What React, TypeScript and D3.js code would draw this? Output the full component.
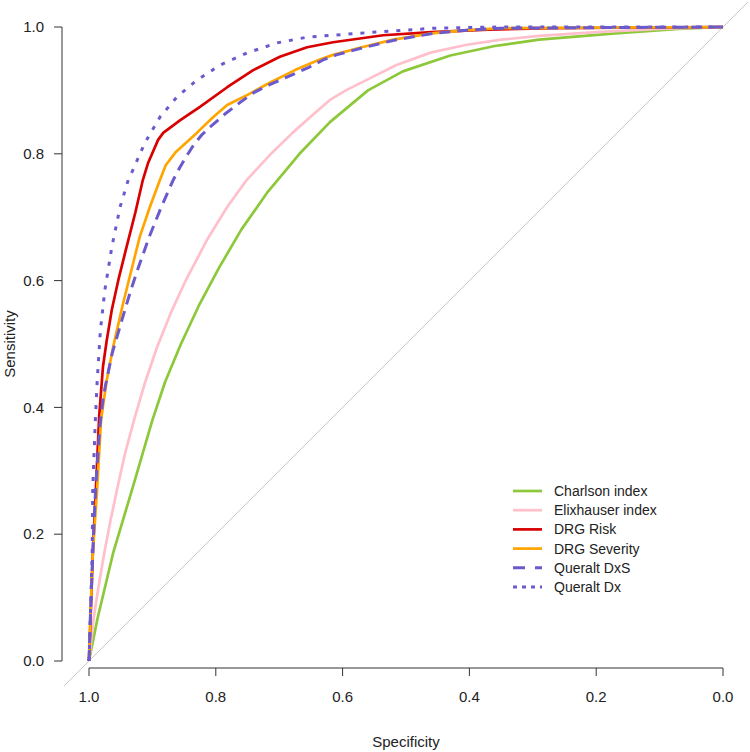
import React from "react";
import * as d3 from "d3";

type Pt = [number, number]; // [specificity, sensitivity]

const seriesNames = ["Charlson index", "Elixhauser index", "DRG Risk", "DRG Severity", "Queralt DxS", "Queralt Dx"];
const seriesColors = ["#8CC83A", "#FFC0CB", "#D90000", "#FFA500", "#6A5ACD", "#6A5ACD"];
const plotDash = ["", "", "", "", "11,7", "4,8"];
const legendDash = ["", "", "", "", "12,10", "4,5"];

const charlson: Pt[] = [
  [1, 0], [0.987, 0.065], [0.962, 0.17], [0.931, 0.274], [0.9, 0.38], [0.88, 0.44], [0.855, 0.5],
  [0.827, 0.56], [0.795, 0.62], [0.76, 0.68], [0.718, 0.74], [0.668, 0.8], [0.62, 0.85], [0.56, 0.9],
  [0.505, 0.93], [0.43, 0.955], [0.36, 0.97], [0.29, 0.98], [0.17, 0.99], [0.07, 0.997], [0, 1],
];
const elixhauser: Pt[] = [
  [1, 0], [0.993, 0.065], [0.985, 0.117], [0.976, 0.17], [0.966, 0.222], [0.955, 0.274], [0.943, 0.328],
  [0.929, 0.38], [0.912, 0.438], [0.893, 0.494], [0.871, 0.549], [0.848, 0.599], [0.814, 0.664],
  [0.782, 0.716], [0.751, 0.759], [0.712, 0.801], [0.679, 0.833], [0.651, 0.858], [0.62, 0.885],
  [0.595, 0.9], [0.565, 0.915], [0.515, 0.94], [0.46, 0.96], [0.404, 0.972], [0.35, 0.98],
  [0.29, 0.986], [0.2, 0.992], [0.1, 0.997], [0, 1],
];
const drgRisk: Pt[] = [
  [1, 0], [0.998, 0.054], [0.994, 0.17], [0.989, 0.274], [0.984, 0.385], [0.978, 0.464], [0.972, 0.506],
  [0.964, 0.554], [0.953, 0.604], [0.942, 0.648], [0.927, 0.707], [0.915, 0.759], [0.907, 0.785],
  [0.891, 0.822], [0.883, 0.833], [0.856, 0.853], [0.825, 0.874], [0.782, 0.905], [0.741, 0.932],
  [0.699, 0.953], [0.656, 0.968], [0.615, 0.976], [0.536, 0.987], [0.46, 0.992], [0.37, 0.996],
  [0.27, 0.998], [0, 1],
];
const drgSeverity: Pt[] = [
  [1, 0], [0.998, 0.065], [0.994, 0.17], [0.987, 0.274], [0.981, 0.38], [0.972, 0.443], [0.962, 0.495],
  [0.946, 0.565], [0.932, 0.621], [0.92, 0.669], [0.904, 0.716], [0.888, 0.759], [0.879, 0.782],
  [0.863, 0.803], [0.83, 0.833], [0.804, 0.858], [0.782, 0.877], [0.75, 0.893], [0.715, 0.912],
  [0.675, 0.932], [0.638, 0.948], [0.615, 0.956], [0.57, 0.968], [0.52, 0.98], [0.46, 0.99],
  [0.404, 0.995], [0.352, 0.998], [0.194, 0.999], [0, 1],
];
const queraltDxS: Pt[] = [
  [1, 0], [0.998, 0.065], [0.996, 0.117], [0.992, 0.222], [0.989, 0.281], [0.983, 0.369], [0.978, 0.412],
  [0.974, 0.435], [0.963, 0.487], [0.948, 0.538], [0.934, 0.585], [0.922, 0.621], [0.905, 0.669],
  [0.886, 0.716], [0.868, 0.757], [0.857, 0.778], [0.847, 0.795], [0.835, 0.814], [0.822, 0.83],
  [0.806, 0.845], [0.784, 0.864], [0.763, 0.88], [0.741, 0.896], [0.715, 0.909], [0.688, 0.921],
  [0.656, 0.935], [0.631, 0.948], [0.61, 0.956], [0.565, 0.968], [0.515, 0.98], [0.457, 0.99],
  [0.404, 0.995], [0.352, 0.998], [0.2, 0.999], [0, 1],
];
const queraltDx: Pt[] = [
  [1, 0], [0.998, 0.065], [0.995, 0.17], [0.994, 0.274], [0.99, 0.38], [0.987, 0.443], [0.982, 0.522],
  [0.975, 0.585], [0.964, 0.653], [0.951, 0.716], [0.938, 0.759], [0.931, 0.774], [0.912, 0.817],
  [0.888, 0.858], [0.861, 0.89], [0.83, 0.916], [0.793, 0.94], [0.751, 0.959], [0.703, 0.975],
  [0.656, 0.984], [0.562, 0.991], [0.457, 0.998], [0.352, 1], [0, 1],
];

const seriesData: Pt[][] = [charlson, elixhauser, drgRisk, drgSeverity, queraltDxS, queraltDx];
const tickValues = [1.0, 0.8, 0.6, 0.4, 0.2, 0.0];

const FONT = "Liberation Sans, Arial, sans-serif";

export default function App() {
  const x = d3.scaleLinear().domain([1, 0]).range([89, 723]);
  const y = d3.scaleLinear().domain([0, 1]).range([661, 27]);
  const line = d3
    .line<Pt>()
    .x((d) => x(d[0]))
    .y((d) => y(d[1]))
    .curve(d3.curveLinear);

  const axisColor = "#333";
  const legendX = 513;
  const legendY0 = 491;
  const legendDy = 19.2;

  return (
    <svg
      width={750}
      height={752}
      style={{ position: "fixed", left: 0, top: 0, background: "#fff" }}
      fontFamily={FONT}
    >
      <rect x={0} y={0} width={750} height={752} fill="#fff" />
      <defs>
        <clipPath id="plotclip">
          <rect x={x(1.04)} y={y(1.04)} width={x(-0.04) - x(1.04)} height={y(-0.04) - y(1.04)} />
        </clipPath>
      </defs>
      <line
        x1={x(1.04)}
        y1={y(-0.04)}
        x2={x(-0.04)}
        y2={y(1.04)}
        stroke="#C8C8C8"
        strokeWidth={1}
        clipPath="url(#plotclip)"
      />
      {seriesData.map((d, i) => (
        <path
          key={seriesNames[i]}
          d={line(d) || ""}
          fill="none"
          stroke={seriesColors[i]}
          strokeWidth={i >= 4 ? 3 : 2.7}
          strokeDasharray={plotDash[i] || undefined}
          strokeLinejoin="round"
        />
      ))}
      <line x1={62} x2={62} y1={y(1)} y2={y(0)} stroke={axisColor} strokeWidth={1} />
      {tickValues.map((t) => (
        <g key={"y" + t}>
          <line x1={54} x2={62} y1={y(t)} y2={y(t)} stroke={axisColor} strokeWidth={1} />
          <text x={44} y={y(t)} dy="0.35em" textAnchor="end" fontSize={15} fill="#222">
            {t.toFixed(1)}
          </text>
        </g>
      ))}
      <line x1={x(1)} x2={x(0)} y1={668} y2={668} stroke={axisColor} strokeWidth={1} />
      {tickValues.map((t) => (
        <g key={"x" + t}>
          <line x1={x(t)} x2={x(t)} y1={668} y2={676} stroke={axisColor} strokeWidth={1} />
          <text x={x(t)} y={702} textAnchor="middle" fontSize={15} fill="#222">
            {t.toFixed(1)}
          </text>
        </g>
      ))}
      <text x={406} y={747} textAnchor="middle" fontSize={15} fill="#222">
        Specificity
      </text>
      <text
        transform={`translate(15,${(y(0) + y(1)) / 2}) rotate(-90)`}
        textAnchor="middle"
        fontSize={15}
        fill="#222"
      >
        Sensitivity
      </text>
      {seriesNames.map((n, i) => (
        <g key={"leg" + n}>
          <line
            x1={legendX}
            x2={legendX + 29}
            y1={legendY0 + i * legendDy}
            y2={legendY0 + i * legendDy}
            stroke={seriesColors[i]}
            strokeWidth={i >= 4 ? 3 : 2.7}
            strokeDasharray={legendDash[i] || undefined}
          />
          <text x={legendX + 41} y={legendY0 + i * legendDy} dy="0.35em" fontSize={14} fill="#222">
            {n}
          </text>
        </g>
      ))}
    </svg>
  );
}
